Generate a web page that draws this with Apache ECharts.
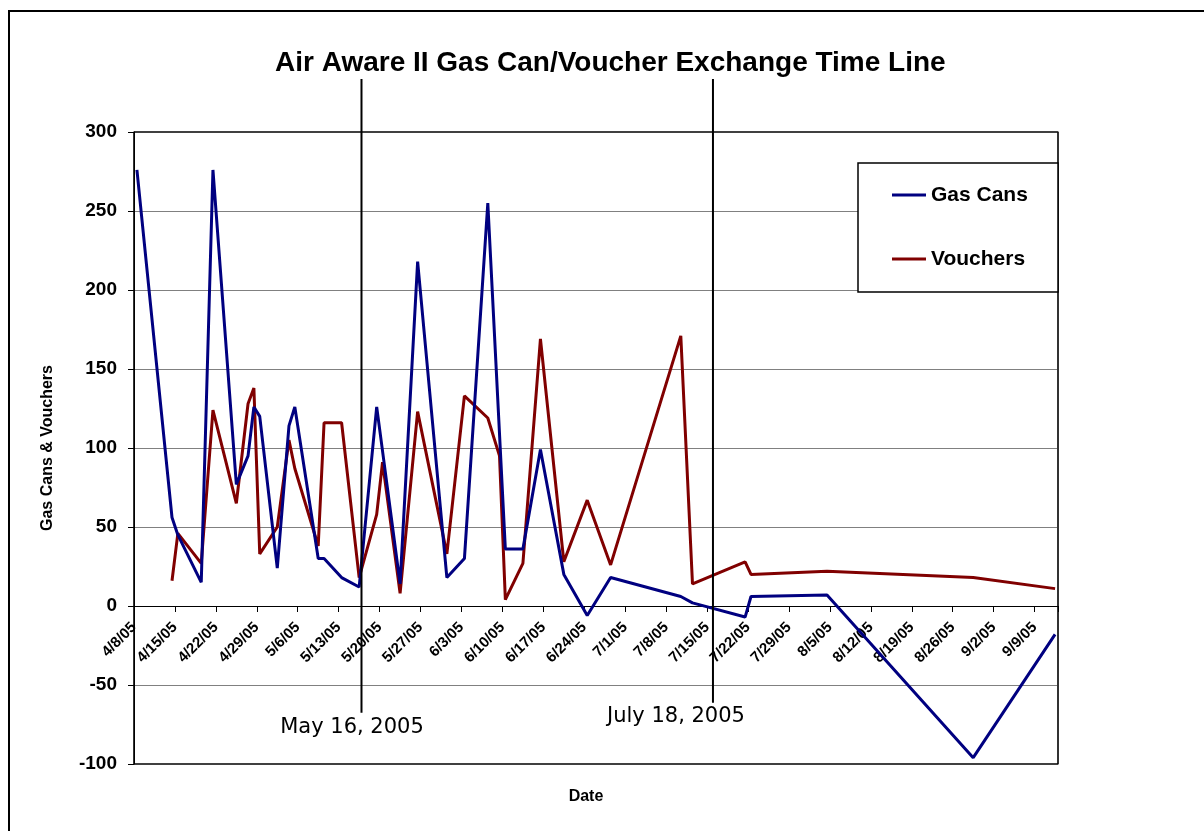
<!DOCTYPE html>
<html>
<head>
<meta charset="utf-8">
<script src="https://cdn.jsdelivr.net/npm/echarts@6/dist/echarts.min.js"></script>
<style>
  html, body { margin: 0; padding: 0; background: #fff; }
  #chart { width: 1204px; height: 831px; }
</style>
</head>
<body>
<div id="chart"></div>
<script>
// ---- data ----
const titleText = 'Air Aware II Gas Can/Voucher Exchange Time Line';
const seriesNames = ['Gas Cans', 'Vouchers'];
const dates = ['4/8/05','4/14/05','4/15/05','4/19/05','4/21/05','4/25/05','4/27/05','4/28/05','4/29/05',
  '5/2/05','5/4/05','5/5/05','5/9/05','5/10/05','5/13/05','5/16/05','5/19/05','5/20/05','5/23/05','5/26/05',
  '5/31/05','6/3/05','6/7/05','6/9/05','6/10/05','6/13/05','6/16/05','6/20/05','6/24/05','6/28/05',
  '7/10/05','7/12/05','7/21/05','7/22/05','8/4/05','8/29/05','9/12/05'];
const gasCans = [276,56,45,15,276,77,95,126,120,24,114,126,30,30,18,12,126,null,14,218,
  18,30,255,null,36,36,99,20,-6,18,6,2,-7,6,7,-96,-18];
const vouchers = [null,16,46,27,124,65,128,138,33,50,105,87,38,116,116,18,58,91,8,123,
  33,133,119,95,4,27,169,28,67,26,171,14,28,20,22,18,11];
const axisStart = '4/8/05';      // first tick of the date axis
const axisEndDays = 158;         // axis length in days
const tickDays = 7;              // weekly ticks
const yTicks = { min: -100, max: 300, step: 50 };
const annotationLabels = ['May 16, 2005', 'July 18, 2005'];
const annotationDays = [38.9, 99.0];   // where the hand-drawn lines sit on the date axis

// ---- helpers ----
function parseDate(s) {
  const p = s.split('/').map(Number);
  return Date.UTC(2000 + p[2], p[0] - 1, p[1]);
}
const baseMs = parseDate(axisStart);
const DAY = 86400000;
function dayIndex(s) { return Math.round((parseDate(s) - baseMs) / DAY); }
function fmtDay(v) {
  const d = new Date(baseMs + v * DAY);
  return (d.getUTCMonth() + 1) + '/' + d.getUTCDate() + '/' + String(d.getUTCFullYear()).slice(2);
}
// Excel date axis: each day is a slot, points are drawn at the middle of the slot
function pairs(values) {
  const out = [];
  values.forEach((v, i) => { if (v !== null) out.push([dayIndex(dates[i]) + 0.5, v]); });
  return out;
}

const FONT = '"Liberation Sans", Arial, sans-serif';
const chart = echarts.init(document.getElementById('chart'), null, { renderer: 'canvas' });

const gridLeft = 134, gridRight = 146, gridTop = 132, gridBottom = 67, chartW = 1204, chartH = 831;
const plotH = chartH - gridTop - gridBottom;
// the category axis crosses the value axis at 0: shift it up from the bottom edge
const zeroOffset = -plotH * (0 - yTicks.min) / (yTicks.max - yTicks.min);

const annotationStyle = [
  { yTop: 333.5, yBottom: -67.5, dx: -9.5, textY: 728 },
  { yTop: 333.5, yBottom: -61.3, dx: -37, textY: 717 }
];

chart.setOption({
  animation: false,
  backgroundColor: '#fff',
  title: {
    text: titleText,
    left: 270, top: 44,
    textStyle: { fontFamily: FONT, fontSize: 28, fontWeight: 'bold', color: '#000' }
  },
  grid: {
    left: gridLeft, right: gridRight, top: gridTop, bottom: gridBottom,
    show: true, borderColor: '#000', borderWidth: 1, backgroundColor: 'transparent'
  },
  legend: {
    data: seriesNames,
    orient: 'vertical',
    left: 892, top: 184,
    padding: 0,
    itemWidth: 34, itemHeight: 3, itemGap: 42,
    icon: 'rect',
    z: 10,
    textStyle: { fontFamily: FONT, fontSize: 21, fontWeight: 'bold', color: '#000', lineHeight: 22 }
  },
  xAxis: {
    type: 'value',
    position: 'bottom',
    offset: zeroOffset,
    min: 0, max: axisEndDays, interval: tickDays,
    axisLine: { onZero: false, lineStyle: { color: '#000', width: 1 } },
    axisTick: { show: true, length: 6, lineStyle: { color: '#000' } },
    splitLine: { show: false },
    axisLabel: {
      rotate: 45, margin: 19,
      fontFamily: FONT, fontSize: 15, fontWeight: 'bold', color: '#000',
      formatter: v => (Math.abs(v % tickDays) < 1e-9 ? fmtDay(v) : '')
    }
  },
  yAxis: {
    type: 'value',
    min: yTicks.min, max: yTicks.max, interval: yTicks.step,
    name: 'Gas Cans & Vouchers',
    nameLocation: 'middle', nameGap: 78,
    nameTextStyle: { fontFamily: FONT, fontSize: 16, fontWeight: 'bold', color: '#000' },
    axisLine: { show: true, onZero: false, lineStyle: { color: '#000', width: 1 } },
    axisTick: { show: true, length: 6, lineStyle: { color: '#000' } },
    splitLine: { show: true, lineStyle: { color: '#808080', width: 1 } },
    axisLabel: { margin: 17, fontFamily: FONT, fontSize: 19, fontWeight: 'bold', color: '#000' }
  },
  graphic: [
    { type: 'rect', z: 0, silent: true,
      shape: { x: 9, y: 11, width: 1300, height: 900 },
      style: { fill: null, stroke: '#000', lineWidth: 2 } },
    { type: 'rect', z: 1, silent: true,
      shape: { x: gridLeft, y: gridTop, width: chartW - gridLeft - gridRight, height: plotH },
      style: { fill: null, stroke: '#000', lineWidth: 1.2 } },
    { type: 'rect', z: 8, silent: true,
      shape: { x: 858, y: 163, width: 200, height: 129 },
      style: { fill: '#fff', stroke: '#000', lineWidth: 1.5 } },
    { type: 'text', z: 8, silent: true, x: 586, y: 797,
      style: { text: 'Date', fill: '#000', font: 'bold 16px ' + FONT, textAlign: 'center', textVerticalAlign: 'middle' } }
  ],
  series: [
    { name: seriesNames[0], type: 'line', data: pairs(gasCans), symbol: 'none', z: 3,
      lineStyle: { color: '#000080', width: 3 }, itemStyle: { color: '#000080' } },
    { name: seriesNames[1], type: 'line', data: pairs(vouchers), symbol: 'none', z: 2,
      lineStyle: { color: '#800000', width: 3 }, itemStyle: { color: '#800000' } },
    { name: 'annotations', type: 'custom', clip: false, z: 4, silent: true,
      data: annotationDays.map(d => [d, 0]),
      encode: { x: 0, y: 1 },
      renderItem: function (params, api) {
        const i = params.dataIndex;
        const st = annotationStyle[i];
        const d = api.value(0);
        const top = api.coord([d, st.yTop]);
        const bot = api.coord([d, st.yBottom]);
        return {
          type: 'group',
          children: [
            { type: 'line', shape: { x1: top[0], y1: top[1], x2: bot[0], y2: bot[1] },
              style: { stroke: '#000', lineWidth: 2 } },
            { type: 'text', x: top[0] + st.dx, y: st.textY,
              style: { text: annotationLabels[i], fill: '#000', font: '21px "DejaVu Sans", Verdana, sans-serif',
                textAlign: 'center', textVerticalAlign: 'middle' } }
          ]
        };
      }
    }
  ]
});
</script>
</body>
</html>
